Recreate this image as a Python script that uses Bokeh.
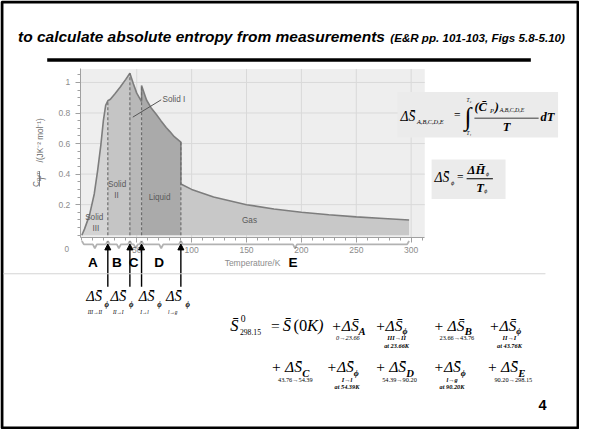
import math
from bokeh.plotting import figure
from bokeh.models import (Label, BoxAnnotation, PolyAnnotation, Arrow, NormalHead,
                          FixedTicker, NumeralTickFormatter, LinearAxis, Range1d)
from bokeh.embed import file_html
from bokeh.resources import INLINE

# ---------------- data ----------------
T_solid3 = [0.0, 2.4, 6.9, 11.3, 14.3, 17.3, 19.6, 21.7, 23.66]
Y_solid3 = [0.0, 0.04, 0.13, 0.27, 0.42, 0.59, 0.75, 0.85, 0.88]
T_solid2 = [23.66, 26.0, 30.0, 35.0, 40.0, 43.76]
Y_solid2 = [0.88, 0.89, 0.925, 0.97, 1.02, 1.06]
T_solid1 = [43.76, 47.0, 50.0, 54.39]
Y_solid1 = [1.06, 0.99, 0.93, 0.875]
T_liquid = [54.39, 58.9, 63.0, 67.9, 72.0, 76.8, 80.0, 84.2, 90.2]
Y_liquid = [0.98, 0.885, 0.835, 0.79, 0.75, 0.705, 0.68, 0.645, 0.61]
T_gas = [90.2, 100.0, 120.0, 150.0, 175.0, 200.0, 225.0, 250.0, 275.0, 298.15]
Y_gas = [0.335, 0.30, 0.25, 0.20, 0.172, 0.15, 0.134, 0.12, 0.11, 0.10]

phase_T = [T_solid3, T_solid2, T_solid1, T_liquid, T_gas]
phase_Y = [Y_solid3, Y_solid2, Y_solid1, Y_liquid, Y_gas]
phase_colors = ["#d3d3d3", "#c5c5c5", "#b8b8b8", "#aaaaaa", "#c8c8c8"]

transition_T = [23.66, 43.76, 54.39, 90.20]
transition_names = ["III\u2192II", "II\u2192I", "I\u2192l", "l\u2192g"]
segment_names = ["A", "B", "C", "D", "E"]
segment_bounds = [0.0, 23.66, 43.76, 54.39, 90.20, 298.15]
segment_ranges = ["0\u219223.66", "23.66\u219243.76", "43.76\u219254.39",
                  "54.39\u219290.20", "90.20\u2192298.15"]
x_ticks = [50, 100, 150, 200, 250, 300]
y_ticks = [0.2, 0.4, 0.6, 0.8, 1.0]

# ---------------- layout (slide pixels -> canvas) ----------------
W, H = 579, 429
KX, KY = W / 595, H / 445
KS = (KX + KY) / 2
PX0, PXU = 83.6, 1.128      # slide x of T=0, slide px per kelvin
PY0, PYU = 243.5, 158.5     # slide y of 0, slide px per unit


def xd(X):
    return (X - PX0) / PXU


def yd(Y):
    return (PY0 - Y) / PYU


CL, CR, CB, CT = xd(82), xd(436), yd(246), yd(71)   # chart frame in data units
PPU = PXU * KX                                      # canvas px per kelvin


def sx(X):
    return X * KX


def sy(Y):
    return H - Y * KY


p = figure(width=W, height=H, x_range=Range1d(xd(0), xd(595)),
           y_range=Range1d(yd(445), yd(0)), title=None,
           x_axis_location=None, y_axis_location=None,
           output_backend="svg", toolbar_location=None,
           min_border=0, min_border_left=0, min_border_right=0,
           min_border_top=0, min_border_bottom=0)
p.background_fill_color = "white"
p.border_fill_color = "white"
p.outline_line_color = None
p.xgrid.visible = False
p.ygrid.visible = False

# chart background and grid
p.quad(left=[CL], right=[CR], bottom=[CB], top=[CT], fill_color="#eeeeee", line_color=None)
p.segment(x0=x_ticks, y0=[CB] * len(x_ticks), x1=x_ticks, y1=[CT] * len(x_ticks),
          line_color="#d9d9d9", line_width=1)
p.segment(x0=[CL] * len(y_ticks), y0=y_ticks, x1=[CR] * len(y_ticks), y1=y_ticks,
          line_color="#d9d9d9", line_width=1)

# axes fixed at the chart edges
xax = LinearAxis(fixed_location=CB, bounds=(CL, CR),
                 ticker=FixedTicker(ticks=x_ticks, minor_ticks=list(range(0, 320, 10))))
yax = LinearAxis(fixed_location=CL, bounds=(CB, CT),
                 ticker=FixedTicker(ticks=y_ticks, minor_ticks=[i * 0.05 for i in range(0, 22)]),
                 formatter=NumeralTickFormatter(format="0.[0]"))
for ax in (xax, yax):
    ax.axis_line_color = "#a0a0a0"
    ax.major_tick_line_color = "#a0a0a0"
    ax.minor_tick_line_color = "#a0a0a0"
    ax.major_tick_in = 0
    ax.major_tick_out = 5
    ax.minor_tick_in = 0
    ax.minor_tick_out = 3
    ax.major_label_text_color = "#8c8c8c"
    ax.major_label_text_font = "Liberation Sans"
    ax.major_label_text_font_size = "8.5px"
yax.major_label_standoff = 5
xax.major_label_standoff = 4
xax.axis_label = "Temperature/K"
xax.axis_label_text_font = "Liberation Sans"
xax.axis_label_text_font_style = "normal"
xax.axis_label_text_font_size = "8.5px"
xax.axis_label_text_color = "#8c8c8c"
xax.axis_label_standoff = 2
p.add_layout(xax, "below")
p.add_layout(yax, "left")

# filled phase regions + outline
for tv, yv, c in zip(phase_T, phase_Y, phase_colors):
    p.varea(x=tv, y1=[0] * len(tv), y2=yv, fill_color=c)
all_T = [t for tv in phase_T for t in tv]
all_Y = [y for yv in phase_Y for y in yv]
p.line(all_T, all_Y, line_color="#7d7d7d", line_width=1.6)
tops = [max(phase_Y[i][-1], phase_Y[i + 1][0]) for i in range(len(transition_T))]
p.segment(x0=transition_T, y0=[0] * len(transition_T), x1=transition_T, y1=tops,
          line_color="#6e6e6e", line_width=1.2, line_dash="3 2")


def txt(text, X, Y, size, font="Liberation Serif", style="normal", color="black",
        align="left", base="middle", angle=0.0):
    p.add_layout(Label(x=sx(X), y=sy(Y), x_units="screen", y_units="screen", text=text,
                       text_font=font, text_font_size=f"{size * KS:.1f}px",
                       text_font_style=style, text_color=color, text_align=align,
                       text_baseline=base, angle=angle))


def dtxt(text, x, Y, size, font="Liberation Sans", style="normal", color="#5a5a5a",
         align="center", base="middle", x_offset=0):
    p.add_layout(Label(x=x, y=sy(Y), x_units="data", y_units="screen", text=text,
                       text_font=font, text_font_size=f"{size * KS:.1f}px",
                       text_font_style=style, text_color=color, text_align=align,
                       text_baseline=base, x_offset=x_offset))


def box(Xa, Ya, Xb, Yb, fill=None, line=None, lw=1.0):
    p.add_layout(BoxAnnotation(left=sx(Xa), right=sx(Xb), top=sy(Ya), bottom=sy(Yb),
                               left_units="screen", right_units="screen",
                               top_units="screen", bottom_units="screen",
                               fill_color=fill if fill else "white",
                               fill_alpha=1.0 if fill else 0.0,
                               line_color=line if line else "black",
                               line_alpha=1.0 if line else 0.0, line_width=lw))


# phase labels inside the chart
dtxt("Solid", 11.3, 225, 8.5)
dtxt("III", 12.8, 236, 8.5)
dtxt("Solid", 32.1, 191, 8.5)
dtxt("II", 31.5, 202, 8.5)
dtxt("Liquid", 70.8, 204, 8.5)
dtxt("Gas", 152.7, 228, 8.5)
dtxt("Solid I", 73.5, 103, 8.5, align="left")
p.add_layout(Arrow(x_start=72.3, y_start=yd(103), x_end=46.4, y_end=yd(121),
                   line_color="#555555", line_width=1, end=None))

# y axis label (fraction, rotated)
txt("C\u209a,\u2098", 36.5, 185, 8.5, font="Liberation Sans", color="#666666",
    align="center", angle=math.pi / 2)
box(39.6, 177, 40.4, 193, fill="#666666")
txt("T", 44.5, 185, 8.5, font="Liberation Sans", style="italic", color="#666666",
    align="center", angle=math.pi / 2)
txt("/(JK\u207b\u00b2 mol\u207b\u00b9)", 41, 145, 8.5, font="Liberation Sans",
    color="#666666", align="center", angle=math.pi / 2)
txt("0", 68, 258, 8.5, font="Liberation Sans", color="#8c8c8c", align="center")

# braces under the axis
d = 2.0 / PPU
for a, b in zip(segment_bounds[:-1], segment_bounds[1:]):
    m = (a + b) / 2
    xs = [a, a + d, m - d, m, m + d, b - d, b]
    ys = [249.5, 253, 253, 257, 253, 253, 249.5]
    p.add_layout(PolyAnnotation(xs=xs + xs[::-1], ys=[sy(v) for v in ys + ys[::-1]],
                                xs_units="data", ys_units="screen",
                                fill_alpha=0.0, line_color="black", line_width=1.8))

# arrows at the transitions
for t in transition_T:
    p.add_layout(Arrow(x_start=t, y_start=yd(297), x_end=t, y_end=yd(252.5),
                       line_color="black", line_width=1.4,
                       end=NormalHead(size=6, fill_color="black", line_color="black",
                                      line_width=1)))

# segment letters
for name, a, b in zip(segment_names, segment_bounds[:-1], segment_bounds[1:]):
    dtxt(name, (a + b) / 2, 272, 14, style="bold", color="black", x_offset=-2)

# ---------------- slide decoration ----------------
box(1.5, 1.5, 593.5, 443.5, line="black", lw=3)
txt("to calculate absolute entropy from measurements", 18, 37, 16,
    font="Liberation Sans", style="bold italic")
txt("(E&R pp. 101-103, Figs 5.8-5.10)", 580, 38, 12, font="Liberation Sans",
    style="bold italic", align="right")
box(48, 60, 545, 63.5, fill="black")
box(3, 283, 560, 284, fill="#d4d4d4")

SB = "S\u0304"
# dS_phi under the arrows
for Xs, Xp, Xc, nm in zip([88, 113, 142, 170], [107, 132, 161, 190],
                          [97, 121, 148, 177], transition_names):
    txt("\u0394" + SB, Xs, 307, 15, style="italic")
    txt("\u03d5", Xp, 315, 8, style="bold italic")
    txt(nm, Xc, 323, 5.5, style="italic", align="center")

# formula box 1
box(408, 95, 573, 142, fill="#ebebeb")
txt("\u0394" + SB, 411, 120, 14, style="italic")
txt("A,B,C,D,E", 428, 125, 6.5, style="italic")
txt("=", 466, 119, 12)
txt("\u222b", 477, 120, 26)
txt("T\u2082", 479, 103, 5.5, style="italic")
txt("T\u2081", 479, 137, 5.5, style="italic")
txt("(C\u0304", 487, 110, 13, style="bold italic")
txt("P", 503, 114, 6.5, style="italic")
txt(")", 508, 110, 13, style="bold italic")
txt("A,B,C,D,E", 513, 114, 6, style="italic")
box(487, 121.5, 553, 122.5, fill="black")
txt("T", 520, 131, 13, style="bold italic", align="center")
txt("dT", 555, 121, 13, style="bold italic")

# formula box 2
box(443, 165, 519, 206, fill="#ebebeb")
txt("\u0394" + SB, 446, 184, 14, style="italic")
txt("\u03d5", 463, 189, 6.5, style="italic")
txt("=", 469, 184, 12)
txt("\u0394H\u0304", 480, 176, 13, style="bold italic")
txt("\u03d5", 499, 180, 6, style="italic")
box(479, 184.5, 506, 185.5, fill="black")
txt("T", 489, 194, 13, style="bold italic")
txt("\u03d5", 497, 198, 6, style="italic")

# big equation, row 1
txt(SB, 236, 337, 17, style="italic")
txt("0", 247, 330, 10)
txt("298.15", 246, 344, 8)
txt("=", 278, 337, 16)
txt(SB, 290, 337, 17, style="italic")
txt("(0", 301, 337, 17)
txt("K)", 315, 337, 17, style="italic")


def term(X, Y, plus, sub, sub_dx, lines, line_dx):
    txt(plus + "\u0394" + SB, X, Y, 16, style="italic")
    txt(sub, X + sub_dx, Y + 6, 11 if sub != "\u03d5" else 9, style="bold italic")
    for k, (s, st) in enumerate(lines):
        txt(s, X + line_dx, Y + 13 + 7.5 * k, 6.5, style=st, align="center")


term(340, 337, "+", "A", 28, [(segment_ranges[0], "italic")], 17)
term(385, 337, "+", "\u03d5", 28, [(transition_names[0], "bold italic"), ("at 23.66K", "bold italic")], 22)
term(445, 337, "+ ", "B", 32, [(segment_ranges[1], "normal")], 24)
term(502, 337, "+", "\u03d5", 28, [(transition_names[1], "bold italic"), ("at 43.76K", "bold italic")], 21)
# row 2
term(278, 380, "+ ", "C", 32, [(segment_ranges[2], "normal")], 25)
term(335, 380, "+", "\u03d5", 28, [(transition_names[2], "bold italic"), ("at 54.39K", "bold italic")], 21)
term(385, 380, "+ ", "D", 32, [(segment_ranges[3], "normal")], 25)
term(445, 380, "+", "\u03d5", 28, [(transition_names[3], "bold italic"), ("at 90.20K", "bold italic")], 19)
term(500, 380, "+ ", "E", 32, [(segment_ranges[4], "normal")], 27)

txt("4", 557, 420, 15, font="Liberation Sans", style="bold", align="center")

open("out.html", "w").write(file_html(p, INLINE))
